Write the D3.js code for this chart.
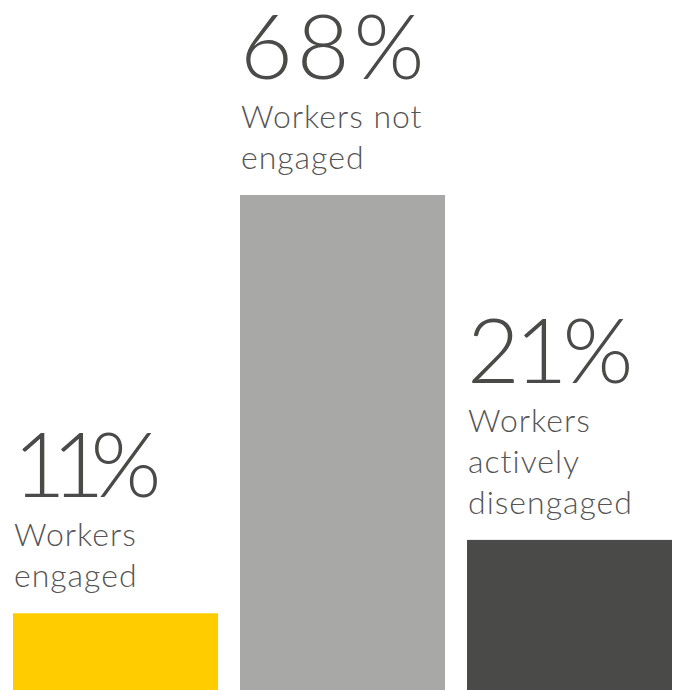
<!DOCTYPE html>
<html>
<head>
<meta charset="utf-8">
<script src="https://cdn.jsdelivr.net/npm/d3@7"></script>
<style>
    html, body { margin: 0; padding: 0; background: #fff; }
    svg { display: block; }
    .pct { font-family: Lato, "Open Sans", sans-serif; font-weight: 300; fill: #4a4a49; }
    .lbl { font-family: Lato, "Open Sans", sans-serif; font-weight: 300; fill: #555; }
</style>
</head>
<body>
<svg id="chart"></svg>
<script>
// Chart data
const categories = ["engaged", "not engaged", "disengaged"];
const values = [11, 68, 21];
const pctLabels = ["11%", "68%", "21%"];
const labelLines = [
    ["Workers", "engaged"],
    ["Workers not", "engaged"],
    ["Workers", "actively", "disengaged"]
];
const colors = ["#ffcc00", "#a8a8a7", "#4a4a49"];

const width = 676, height = 690;

const svg = d3.select('#chart')
    .attr('width', width)
    .attr('height', height);

const x = d3.scaleBand()
    .domain(categories)
    .range([13, 672])
    .paddingInner(0.097)
    .paddingOuter(0);

// zero sits a little below the bottom edge, bars run off the page
const y = d3.scaleLinear()
    .domain([0, 68])
    .range([694, 195]);

// Bars
svg.selectAll('.bar')
    .data(values)
    .enter()
    .append('rect')
    .attr('class', 'bar')
    .attr('x', (d, i) => x(categories[i]))
    .attr('y', d => y(d))
    .attr('width', x.bandwidth())
    .attr('height', d => y(0) - y(d))
    .attr('fill', (d, i) => colors[i]);

// Labels above each bar
const lineGap = 41;

values.forEach((v, i) => {
    const lines = labelLines[i];
    const left = x(categories[i]) + 1;
    const lastBase = y(v) - 26;
    const firstBase = lastBase - lineGap * (lines.length - 1);

    const g = svg.append('g');

    // Lato's "1" is wide, the original font has a narrow one
    const ones = pctLabels[i].split('1').length - 1;
    g.append('text')
        .attr('class', 'pct')
        .attr('x', left - 1)
        .attr('y', firstBase - 49)
        .style('font-size', '91px')
        .style('letter-spacing', (4 - 9 * ones) + 'px')
        .text(pctLabels[i]);

    lines.forEach((line, j) => {
        g.append('text')
            .attr('class', 'lbl')
            .attr('x', left)
            .attr('y', firstBase + j * lineGap)
            .style('font-size', '32px')
            .style('letter-spacing', '1px')
            .text(line);
    });
});
</script>
</body>
</html>
